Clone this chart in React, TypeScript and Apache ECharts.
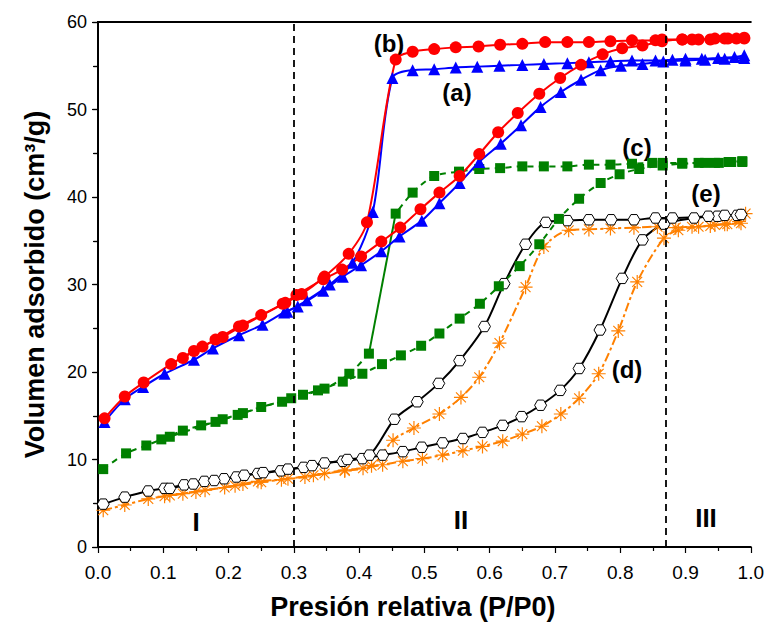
import { useEffect, useRef } from "react";
import * as echarts from "echarts";

type Pt = [number, number];

// Relative pressure (P/P0) vs. adsorbed volume (cm3/g) for each sample.
// (a) blue triangles
const aAds: Pt[] = [
  [0.01, 14.3], [0.041, 16.9], [0.069, 18.3], [0.102, 19.8], [0.147, 21.4], [0.176, 22.7],
  [0.216, 24.2], [0.252, 25.4], [0.285, 26.8], [0.306, 27.5], [0.345, 29.3], [0.375, 30.9],
  [0.403, 32.2], [0.434, 33.8], [0.462, 35.5], [0.496, 37.3], [0.523, 39.3], [0.554, 41.6],
  [0.584, 44.0], [0.617, 46.1], [0.648, 48.2], [0.678, 50.3], [0.709, 52.0], [0.74, 53.4],
  [0.77, 54.5], [0.801, 55.0], [0.834, 55.2], [0.866, 55.5], [0.9, 55.6], [0.93, 55.7],
  [0.96, 55.8], [0.99, 55.9],
];
const aDes: Pt[] = [
  [0.99, 56.2], [0.975, 56.0], [0.95, 55.9], [0.925, 55.8], [0.9, 55.8], [0.88, 55.7],
  [0.854, 55.6], [0.818, 55.6], [0.785, 55.5], [0.752, 55.4], [0.719, 55.3], [0.683, 55.2],
  [0.65, 55.1], [0.615, 55.0], [0.581, 54.9], [0.548, 54.8], [0.515, 54.6], [0.482, 54.5],
  [0.451, 53.6], [0.421, 38.3], [0.39, 32.5], [0.355, 30.0], [0.32, 28.2], [0.29, 26.9],
];

// (b) red circles
const bAds: Pt[] = [
  [0.01, 14.7], [0.041, 17.2], [0.07, 18.8], [0.112, 20.9], [0.147, 22.4], [0.18, 23.7],
  [0.216, 25.2], [0.25, 26.5], [0.283, 27.8], [0.304, 28.8], [0.345, 30.6], [0.374, 31.7],
  [0.403, 33.2], [0.434, 34.9], [0.463, 36.5], [0.494, 38.6], [0.523, 40.5], [0.554, 42.4],
  [0.584, 44.9], [0.613, 47.4], [0.643, 49.6], [0.676, 51.8], [0.708, 53.6], [0.74, 55.1],
  [0.773, 56.3], [0.803, 57.0], [0.834, 57.3], [0.864, 57.8], [0.895, 58.0], [0.92, 58.0],
  [0.945, 58.1], [0.965, 58.1], [0.99, 58.1],
];
const bDes: Pt[] = [
  [0.99, 58.2], [0.978, 58.1], [0.96, 58.1], [0.938, 58.0], [0.91, 58.0], [0.895, 58.0],
  [0.864, 58.0], [0.854, 57.9], [0.818, 57.9], [0.785, 57.8], [0.752, 57.7], [0.719, 57.7],
  [0.685, 57.7], [0.65, 57.5], [0.616, 57.4], [0.583, 57.2], [0.548, 57.1], [0.515, 56.9],
  [0.482, 56.6], [0.456, 55.7], [0.412, 37.1], [0.384, 33.5], [0.347, 30.9], [0.312, 28.9],
  [0.287, 27.9], [0.222, 25.3], [0.191, 24.0], [0.16, 22.9], [0.13, 21.6],
];

// (c) green squares
const cAds: Pt[] = [
  [0.008, 8.9], [0.043, 10.7], [0.074, 11.6], [0.097, 12.3], [0.13, 13.3], [0.158, 13.9],
  [0.18, 14.3], [0.214, 15.1], [0.25, 16.0], [0.282, 16.6], [0.314, 17.4], [0.337, 17.9],
  [0.375, 18.9], [0.405, 19.8], [0.435, 20.9], [0.464, 21.9], [0.495, 23.0], [0.523, 24.4],
  [0.554, 26.1], [0.585, 27.8], [0.614, 29.8], [0.646, 32.1], [0.676, 34.6], [0.706, 37.5],
  [0.737, 39.8], [0.77, 41.6], [0.799, 42.6], [0.829, 43.2], [0.865, 43.6], [0.895, 43.8],
  [0.93, 43.9], [0.951, 43.9], [0.966, 44.0], [0.987, 44.0],
];
const cDesHigh: Pt[] = [
  [0.987, 44.1], [0.97, 44.0], [0.945, 43.9], [0.92, 43.9], [0.895, 43.9], [0.865, 43.9],
  [0.849, 43.9], [0.818, 43.8], [0.785, 43.7], [0.752, 43.7], [0.719, 43.5], [0.683, 43.5],
  [0.65, 43.5], [0.616, 43.3], [0.584, 43.2], [0.553, 42.9], [0.515, 42.4], [0.482, 40.5],
  [0.456, 38.1],
];
const cDesLow: Pt[] = [
  [0.415, 22.1], [0.385, 19.8], [0.347, 18.1], [0.296, 17.0], [0.222, 15.3], [0.191, 14.6],
  [0.11, 12.6],
];

// (d) orange asterisks
const dAds: Pt[] = [
  [0.008, 4.2], [0.041, 4.8], [0.077, 5.5], [0.102, 5.8], [0.13, 6.1], [0.164, 6.5],
  [0.194, 6.8], [0.222, 7.2], [0.245, 7.5], [0.281, 7.7], [0.317, 8.0], [0.347, 8.4],
  [0.378, 8.8], [0.406, 9.0], [0.436, 9.4], [0.467, 9.8], [0.497, 10.1], [0.528, 10.5],
  [0.559, 11.0], [0.589, 11.5], [0.62, 12.1], [0.65, 12.9], [0.68, 13.8], [0.709, 15.2],
  [0.737, 17.0], [0.767, 19.8], [0.797, 24.7], [0.826, 30.3], [0.867, 35.3], [0.889, 36.2],
  [0.92, 36.6], [0.945, 36.8], [0.964, 36.9], [0.982, 37.2], [0.992, 38.1],
];
const dDes: Pt[] = [
  [0.985, 37.0], [0.96, 36.9], [0.938, 36.7], [0.91, 36.6], [0.885, 36.5], [0.857, 36.6],
  [0.821, 36.5], [0.785, 36.4], [0.752, 36.3], [0.721, 36.2], [0.683, 34.3], [0.655, 29.7],
  [0.615, 23.3], [0.584, 19.4], [0.556, 17.1], [0.523, 15.2], [0.484, 13.6], [0.452, 12.2],
  [0.419, 9.3], [0.378, 8.7], [0.33, 8.2], [0.291, 7.8], [0.25, 7.4], [0.21, 7.0],
  [0.15, 6.3], [0.11, 5.9],
];

// (e) black open hexagons
const eAds: Pt[] = [
  [0.008, 4.9], [0.041, 5.7], [0.077, 6.4], [0.102, 6.7], [0.132, 7.1], [0.163, 7.5],
  [0.193, 7.8], [0.212, 8.0], [0.245, 8.4], [0.28, 8.7], [0.315, 9.1], [0.347, 9.6],
  [0.375, 9.8], [0.405, 10.1], [0.436, 10.5], [0.467, 10.9], [0.496, 11.4], [0.528, 11.9],
  [0.559, 12.4], [0.589, 13.1], [0.62, 13.9], [0.649, 14.9], [0.678, 16.2], [0.708, 17.9],
  [0.737, 20.4], [0.769, 24.8], [0.803, 30.7], [0.834, 35.1], [0.867, 36.9], [0.913, 37.6],
  [0.949, 37.8], [0.979, 37.9],
];
const eDes: Pt[] = [
  [0.985, 38.0], [0.96, 37.9], [0.935, 37.8], [0.88, 37.6], [0.854, 37.6], [0.821, 37.4],
  [0.786, 37.4], [0.752, 37.4], [0.719, 37.3], [0.686, 37.1], [0.655, 34.6], [0.622, 30.1],
  [0.592, 25.2], [0.554, 21.3], [0.522, 18.7], [0.489, 16.6], [0.454, 14.6], [0.416, 10.5],
  [0.382, 10.0], [0.328, 9.3], [0.291, 8.9], [0.253, 8.5], [0.224, 8.2], [0.178, 7.6],
  [0.146, 7.2], [0.11, 6.7],
];

// Boundaries between pressure regions I / II / III
const regionBounds = [0.3, 0.866];

const FONT = '"Liberation Sans", Arial, Helvetica, sans-serif';
const HEXAGON = "path://M-1,0L-0.5,-0.866L0.5,-0.866L1,0L0.5,0.866L-0.5,0.866Z";
const ASTERISK = "path://M0,-10L0,10M-10,0L10,0M-7.07,-7.07L7.07,7.07M-7.07,7.07L7.07,-7.07";

const RED = "#ff0000";
const BLUE = "#0000ff";
const GREEN = "#008000";
const ORANGE = "#ff8000";
const BLACK = "#000000";

function line(
  data: Pt[],
  color: string,
  symbol: string,
  symbolSize: number,
  lineType: any,
  itemStyle: any,
  extra: any = {}
) {
  return {
    type: "line",
    data,
    symbol,
    symbolSize,
    symbolKeepAspect: true,
    smooth: 0.3,
    showSymbol: true,
    lineStyle: { color, width: 2, type: lineType },
    itemStyle,
    emphasis: { disabled: true },
    silent: true,
    ...extra,
  };
}

function label(text: string, x: number, y: number, size = 24) {
  return {
    type: "text",
    x,
    y,
    silent: true,
    style: {
      text,
      fill: "#000",
      fontFamily: FONT,
      fontWeight: "bold",
      fontSize: size,
      align: "center",
      verticalAlign: "middle",
    },
  };
}

export default function App() {
  const ref = useRef<HTMLDivElement>(null);

  useEffect(() => {
    if (!ref.current) return;
    const chart = echarts.init(ref.current, undefined, { renderer: "svg" });

    const redStyle = { color: RED };
    const blueStyle = { color: BLUE };
    const greenStyle = { color: GREEN };
    const hexStyle = { color: "#ffffff", borderColor: BLACK, borderWidth: 1 };
    const starStyle = { color: ORANGE, borderColor: ORANGE, borderWidth: 1.2 };
    const orangeDash = [9, 3, 3, 3];
    const greenDash = [6, 5];
    const frame = { color: "#000", width: 2 };

    chart.setOption({
      animation: false,
      grid: { left: 98, top: 22, width: 654, height: 525, containLabel: false },
      xAxis: [
        {
          type: "value",
          position: "bottom",
          min: 0,
          max: 1,
          interval: 0.1,
          name: "Presión relativa (P/P0)",
          nameLocation: "middle",
          nameGap: 46,
          nameTextStyle: {
            fontFamily: FONT,
            fontWeight: "bold",
            fontSize: 27,
            color: "#000",
            padding: [0, 23, 0, 0],
          },
          axisLine: { lineStyle: frame },
          axisTick: { show: true, inside: false, length: 6, lineStyle: { color: "#000", width: 1.2 } },
          minorTick: { show: true, splitNumber: 2, length: 4, lineStyle: { color: "#000", width: 1.2 } },
          axisLabel: {
            fontFamily: FONT,
            fontSize: 19,
            color: "#000",
            margin: 16,
            formatter: (v: number) => v.toFixed(1),
          },
          splitLine: { show: false },
        },
        {
          type: "value",
          position: "top",
          min: 0,
          max: 1,
          interval: 0.1,
          axisLine: { show: true, onZero: false, lineStyle: frame },
          axisTick: { show: false },
          axisLabel: { show: false },
          splitLine: { show: false },
        },
      ],
      yAxis: [
        {
          type: "value",
          position: "left",
          min: 0,
          max: 60,
          interval: 10,
          name: "Volumen adsorbido (cm³/g)",
          nameLocation: "middle",
          nameGap: 50,
          nameTextStyle: { fontFamily: FONT, fontWeight: "bold", fontSize: 27, color: "#000" },
          axisLine: { show: true, lineStyle: frame },
          axisTick: { show: true, inside: false, length: 6, lineStyle: { color: "#000", width: 1.2 } },
          minorTick: { show: true, splitNumber: 2, length: 4, lineStyle: { color: "#000", width: 1.2 } },
          axisLabel: { fontFamily: FONT, fontSize: 18, color: "#000", margin: 11 },
          splitLine: { show: false },
        },
        {
          type: "value",
          position: "right",
          min: 0,
          max: 60,
          interval: 5,
          axisLine: { show: true, lineStyle: frame },
          axisTick: { show: true, inside: true, length: 5, lineStyle: { color: "#000", width: 1.2 } },
          axisLabel: { show: false },
          splitLine: { show: false },
        },
      ],
      series: [
        {
          type: "line",
          data: [],
          silent: true,
          markLine: {
            silent: true,
            symbol: "none",
            label: { show: false },
            lineStyle: { color: "#000", type: [7, 5], width: 1.8 },
            data: regionBounds.map((x) => ({ xAxis: x })),
          },
        },
        line(dAds, ORANGE, ASTERISK, 14, orangeDash, starStyle),
        line(dDes, ORANGE, ASTERISK, 14, orangeDash, starStyle),
        line(eAds, BLACK, HEXAGON, 12, "solid", hexStyle),
        line(eDes, BLACK, HEXAGON, 12, "solid", hexStyle),
        line(cAds, GREEN, "rect", 10, greenDash, greenStyle),
        line(cDesHigh, GREEN, "rect", 10, greenDash, greenStyle),
        line(
          [cDesHigh[cDesHigh.length - 1], cDesLow[0]],
          GREEN,
          "none",
          0,
          "solid",
          greenStyle,
          { smooth: false, showSymbol: false }
        ),
        line(cDesLow, GREEN, "rect", 10, greenDash, greenStyle),
        line(aAds, BLUE, "triangle", 12, "solid", blueStyle),
        line(aDes, BLUE, "triangle", 12, "solid", blueStyle),
        line(bAds, RED, "circle", 12, "solid", redStyle),
        line(bDes, RED, "circle", 12, "solid", redStyle),
      ],
      graphic: [
        label("(b)", 389, 43),
        label("(a)", 457, 92),
        label("(c)", 637, 147),
        label("(e)", 706, 193),
        label("(d)", 627, 369),
        label("I", 196, 522, 26),
        label("II", 461, 520, 26),
        label("III", 706, 518, 26),
      ],
    });

    return () => chart.dispose();
  }, []);

  return (
    <div
      ref={ref}
      style={{ position: "fixed", left: 0, top: 0, width: 767, height: 628, background: "#fff" }}
    />
  );
}
